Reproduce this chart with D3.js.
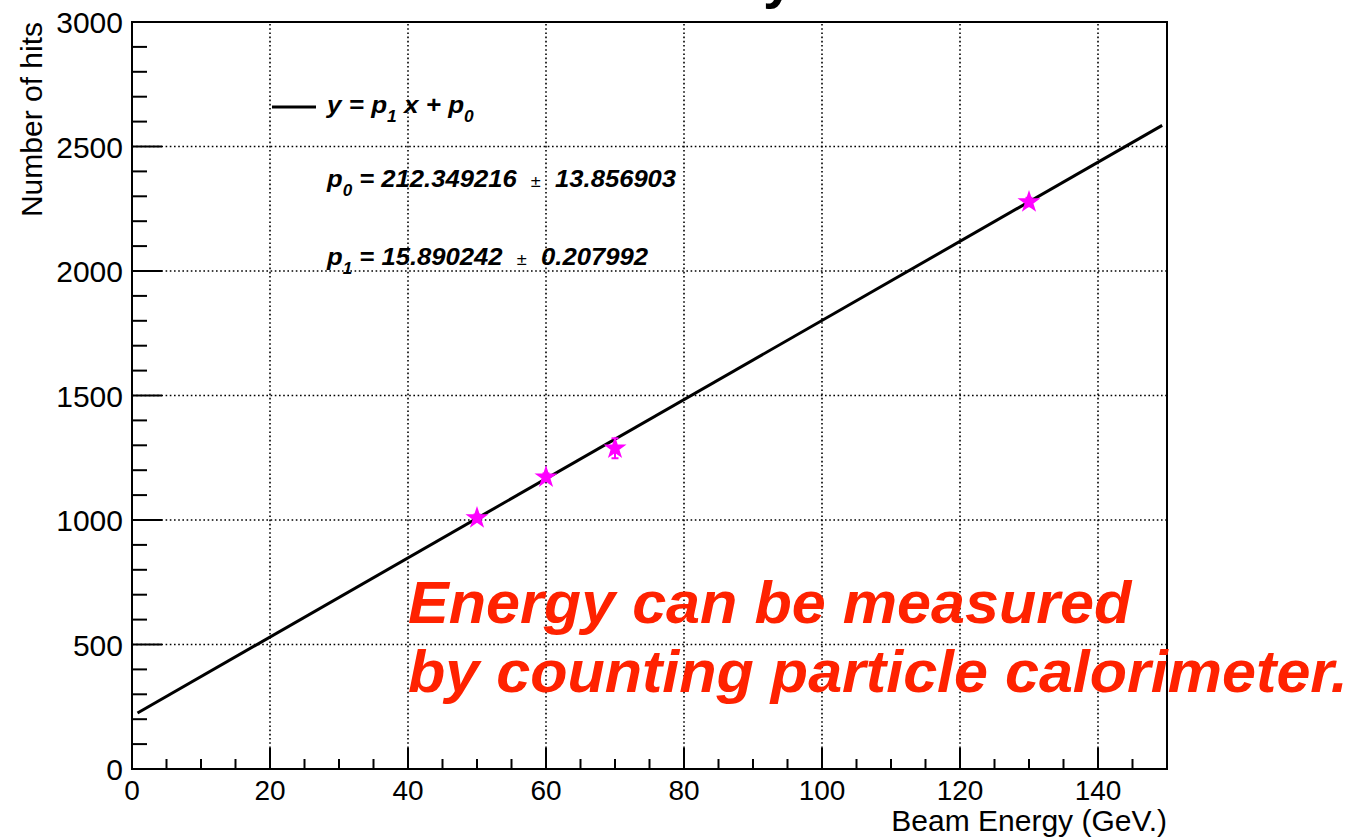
<!DOCTYPE html>
<html>
<head>
<meta charset="utf-8">
<script src="https://cdn.jsdelivr.net/npm/d3@7"></script>
<style>
  html, body { margin: 0; padding: 0; background: #fff; }
  svg { display: block; }
  text { font-family: "Liberation Sans", Arial, Helvetica, sans-serif; }
</style>
</head>
<body>
<svg id="chart" width="1354" height="839"></svg>
<script>
// ---- data ----
const beamEnergy = [50, 60, 70, 130];
const hits       = [1008, 1172, 1288, 2277];
const hitErrors  = [14, 15, 40, 17];
const fitP0 = 212.349216;
const fitP1 = 15.890242;
const fitRange = [0.8, 149.3];
const xTicksMajor = [0, 20, 40, 60, 80, 100, 120, 140];
const yTicksMajor = [0, 500, 1000, 1500, 2000, 2500, 3000];
const xTitle = "Beam Energy (GeV.)";
const yTitle = "Number of hits";
const noteLines = ["Energy can be measured", "by counting particle calorimeter."];

// ---- layout ----
const svg = d3.select("#chart");
const L = 132, R = 1167, T = 22, B = 769;
const x = d3.scaleLinear().domain([0, 150]).range([L, R]);
const y = d3.scaleLinear().domain([0, 3000]).range([B, T]);

// partial title glyph cut off at top
svg.append("text").attr("x", 763).attr("y", -3)
  .attr("font-size", 56).attr("font-weight", "bold").text("y");

// grid (dotted)
const grid = svg.append("g").attr("stroke", "#000").attr("stroke-width", 1.6)
  .attr("stroke-dasharray", "1.6,2.6");
xTicksMajor.filter(d => d > 0).forEach(d => {
  grid.append("line").attr("x1", x(d)).attr("x2", x(d)).attr("y1", B).attr("y2", T);
});
yTicksMajor.filter(d => d > 0 && d < 3000).forEach(d => {
  grid.append("line").attr("y1", y(d)).attr("y2", y(d)).attr("x1", L).attr("x2", R);
});

// ticks (inward)
const ticks = svg.append("g").attr("stroke", "#000").attr("stroke-width", 2);
d3.range(0, 151, 5).forEach(d => {
  const major = d % 20 === 0;
  ticks.append("line").attr("x1", x(d)).attr("x2", x(d))
    .attr("y1", B).attr("y2", B - (major ? 21 : 10));
});
d3.range(0, 3001, 100).forEach(d => {
  const major = d % 500 === 0;
  ticks.append("line").attr("y1", y(d)).attr("y2", y(d))
    .attr("x1", L).attr("x2", L + (major ? 30 : 15));
});

// frame
svg.append("rect").attr("x", L).attr("y", T).attr("width", R - L).attr("height", B - T)
  .attr("fill", "none").attr("stroke", "#000").attr("stroke-width", 2);

// tick labels
svg.append("g").selectAll("text").data(xTicksMajor).join("text")
  .attr("x", d => x(d)).attr("y", 800).attr("text-anchor", "middle")
  .attr("font-size", 28).text(d => d);
svg.append("g").selectAll("text").data(yTicksMajor).join("text")
  .attr("x", 123).attr("y", d => y(d) + 11).attr("text-anchor", "end")
  .attr("font-size", 30).text(d => d);

// axis titles
svg.append("text").attr("x", 1167).attr("y", 831).attr("text-anchor", "end")
  .attr("font-size", 30).text(xTitle);
svg.append("text").attr("transform", "translate(42,22) rotate(-90)")
  .attr("text-anchor", "end").attr("font-size", 30).text(yTitle);

// fit line
svg.append("path")
  .attr("d", d3.line().x(d => x(d)).y(d => y(fitP0 + fitP1 * d))(fitRange))
  .attr("fill", "none").attr("stroke", "#000").attr("stroke-width", 3);

// data points with error bars
const pts = beamEnergy.map((e, i) => ({e, h: hits[i], err: hitErrors[i]}));
const eb = svg.append("g").attr("stroke", "#ff00ff").attr("stroke-width", 2);
pts.forEach(p => {
  eb.append("line").attr("x1", x(p.e)).attr("x2", x(p.e))
    .attr("y1", y(p.h - p.err)).attr("y2", y(p.h + p.err));
  [p.h - p.err, p.h + p.err].forEach(v => {
    eb.append("line").attr("x1", x(p.e) - 3.5).attr("x2", x(p.e) + 3.5)
      .attr("y1", y(v)).attr("y2", y(v));
  });
});
svg.append("g").selectAll("path").data(pts).join("path")
  .attr("transform", p => `translate(${x(p.e)},${y(p.h)})`)
  .attr("d", d3.symbol(d3.symbolStar, 165))
  .attr("fill", "#ff00ff");

// helper: squash text group horizontally to target width
function fitWidth(g, x0, y0, target) {
  const w = g.node().getBBox().width;
  g.attr("transform", `translate(${x0},${y0}) scale(${target / w},1)`);
}

// legend
svg.append("line").attr("x1", 272).attr("x2", 316).attr("y1", 107).attr("y2", 107)
  .attr("stroke", "#000").attr("stroke-width", 3);

function legendText(y0, parts, target) {
  const g = svg.append("g");
  const t = g.append("text").attr("x", 0).attr("y", 0)
    .attr("font-size", 24).attr("font-weight", "bold").attr("font-style", "italic")
    .attr("xml:space", "preserve").style("white-space", "pre");
  parts.forEach(p => {
    const ts = t.append("tspan").text(p.t);
    if (p.dy) ts.attr("dy", p.dy);
    if (p.fs) ts.attr("font-size", p.fs);
    if (p.fw) ts.attr("font-weight", p.fw);
  });
  fitWidth(g, 327, y0, target);
}
legendText(113, [
  {t: "y = p"}, {t: "1", dy: 9, fs: 16}, {t: " x + p", dy: -9}, {t: "0", dy: 9, fs: 16}
], 148);
legendText(187, [
  {t: "p"}, {t: "0", dy: 9, fs: 16}, {t: " = 212.349216  ", dy: -9},
  {t: "±", fs: 17, fw: "normal"}, {t: "  13.856903"}
], 351);
legendText(265, [
  {t: "p"}, {t: "1", dy: 9, fs: 16}, {t: " = 15.890242  ", dy: -9},
  {t: "±", fs: 17, fw: "normal"}, {t: "  0.207992"}
], 323);

// red annotation
const noteY = [623, 692];
const noteW = [725, 940];
noteLines.forEach((s, i) => {
  const g = svg.append("g");
  g.append("text").attr("x", 0).attr("y", 0).attr("font-size", 60)
    .attr("font-weight", "bold").attr("font-style", "italic")
    .attr("fill", "#ff2200").text(s);
  fitWidth(g, 408, noteY[i], noteW[i]);
});
</script>
</body>
</html>
